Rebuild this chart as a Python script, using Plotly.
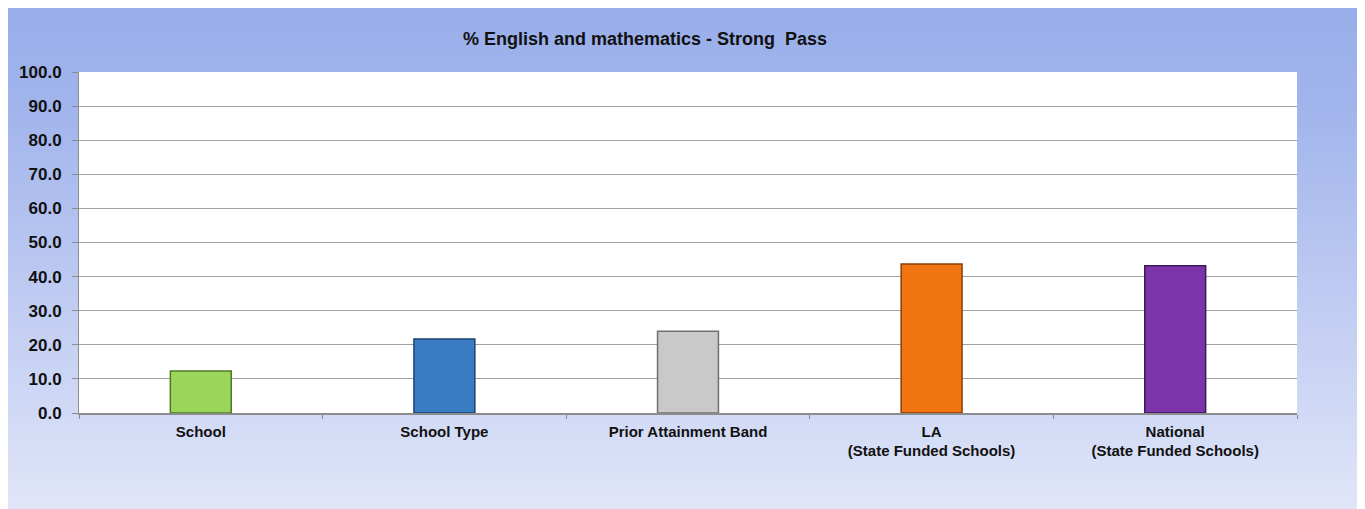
import base64
import plotly.graph_objects as go

categories = ["School", "School Type", "Prior Attainment Band",
              "LA<br>(State Funded Schools)", "National<br>(State Funded Schools)"]
values = [12.3, 21.7, 24.0, 43.7, 43.2]
bar_colors = ["#9BD65A", "#3A7CC4", "#C9C9C9", "#F07510", "#7B35A8"]
edge_colors = ["#4F7A22", "#1B4373", "#6F6F6F", "#8A3F05", "#3E1860"]
y_ticks = [0, 10, 20, 30, 40, 50, 60, 70, 80, 90, 100]
title_text = "% English and mathematics - Strong\u00a0\u00a0Pass"

# page body adds an 8px offset
W, H = 1357, 501
ML, MR, MT, MB = 71, 68, 64, 96
PW, PH = W - ML - MR, H - MT - MB

svg = f'''<svg xmlns="http://www.w3.org/2000/svg" width="{W}" height="{H}" viewBox="0 0 {W} {H}" preserveAspectRatio="none">
<defs><linearGradient id="g" x1="0" y1="0" x2="0" y2="1">
<stop offset="0" stop-color="#99AEEA"/><stop offset="0.2" stop-color="#A1B4EC"/>
<stop offset="1" stop-color="#E0E5F8"/></linearGradient></defs>
<rect x="0" y="0" width="{W}" height="{H}" fill="url(#g)"/>
</svg>'''
src = "data:image/svg+xml;base64," + base64.b64encode(svg.encode()).decode()

fig = go.Figure()
fig.add_trace(go.Bar(
    x=categories, y=values, width=0.25,
    marker=dict(color=bar_colors, line=dict(color=edge_colors, width=1.5)),
    hoverinfo="x+y",
))

fig.update_layout(
    width=W, height=H,
    margin=dict(l=ML, r=MR, t=MT, b=MB, pad=0),
    paper_bgcolor="#DDE3F7", plot_bgcolor="white",
    showlegend=False,
    font=dict(family="Liberation Sans, Arial, sans-serif", color="#111111"),
    images=[dict(source=src, xref="paper", yref="paper",
                 x=-ML / PW, y=1 + MT / PH, sizex=W / PW, sizey=H / PH,
                 xanchor="left", yanchor="top", sizing="stretch", layer="below")],
    shapes=[dict(type="rect", xref="paper", yref="paper", x0=0, x1=1, y0=0, y1=1,
                 fillcolor="white", line=dict(width=0), layer="below")],
    annotations=[dict(text="<b>" + title_text + "</b>", xref="paper", yref="paper",
                      x=(645 - 8 - ML) / PW, y=1 + (MT - 31) / PH, showarrow=False,
                      xanchor="center", yanchor="middle",
                      font=dict(size=18, color="#111111"))],
)
fig.update_yaxes(
    range=[0, 100], tickvals=y_ticks, ticktext=[f"<b>{v:.1f}</b>" for v in y_ticks],
    showgrid=True, gridcolor="#A0A0A0", gridwidth=1,
    showline=True, linecolor="#8C8C8C", linewidth=1,
    ticks="outside", ticklen=6, tickcolor="#8C8C8C", ticklabelstandoff=7,
    tickfont=dict(size=17), zeroline=False, fixedrange=True,
)
fig.update_xaxes(
    ticktext=["<b>" + c + "</b>" for c in categories], tickvals=categories,
    showline=True, linecolor="#8C8C8C", linewidth=1.5,
    ticks="outside", tickson="boundaries", ticklen=4, tickcolor="#8C8C8C",
    ticklabelstandoff=4,
    tickfont=dict(size=15), showgrid=False, fixedrange=True,
)

fig.write_html("out.html")
